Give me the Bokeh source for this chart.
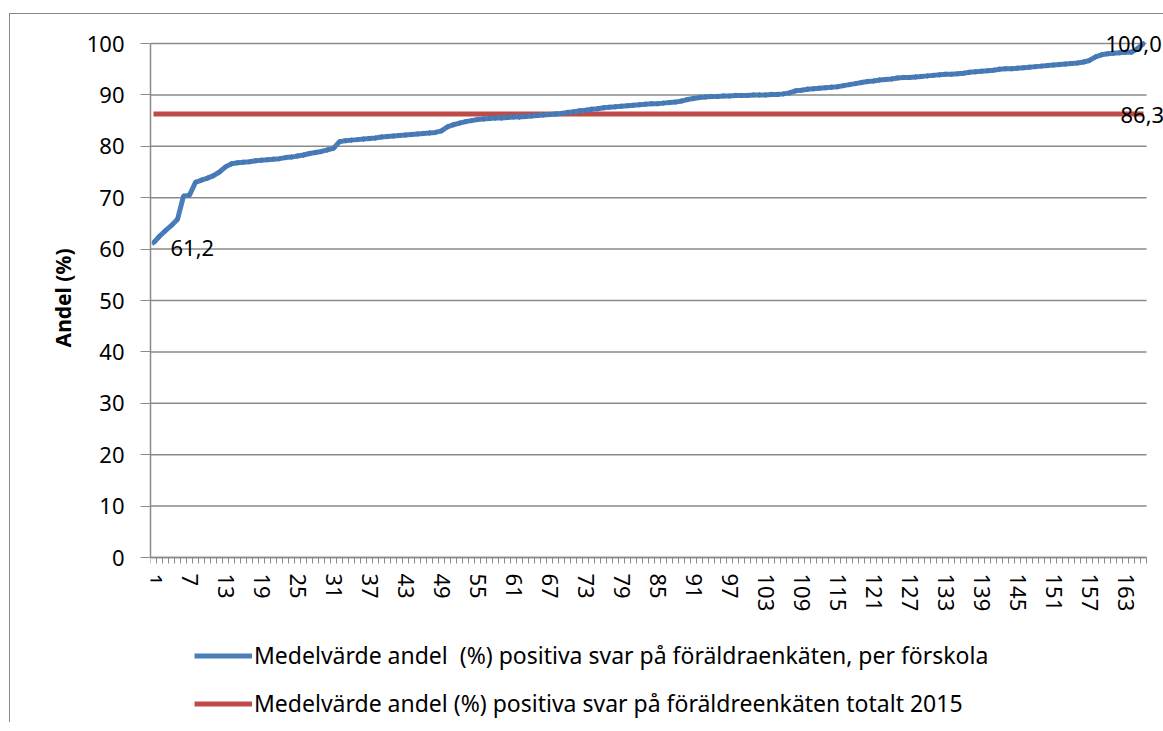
from bokeh.plotting import figure
from bokeh.models import FixedTicker, Legend, LegendItem, Label, LinearAxis, Title
from bokeh.embed import file_html
from bokeh.resources import INLINE

# ---- data ----
andel = [
    61.2, 62.5, 63.6, 64.6, 65.8, 70.3, 70.5, 73.0, 73.4, 73.8,
    74.3, 75.0, 76.0, 76.6, 76.8, 76.9, 77.0, 77.2, 77.3, 77.4,
    77.5, 77.6, 77.8, 77.9, 78.1, 78.3, 78.6, 78.8, 79.0, 79.3,
    79.6, 80.9, 81.1, 81.2, 81.3, 81.4, 81.5, 81.6, 81.8, 81.9,
    82.0, 82.1, 82.2, 82.3, 82.4, 82.5, 82.6, 82.7, 83.0, 83.8,
    84.2, 84.5, 84.8, 85.0, 85.2, 85.3, 85.4, 85.5, 85.5, 85.6,
    85.7, 85.7, 85.8, 85.9, 86.0, 86.1, 86.2, 86.3, 86.4, 86.6,
    86.7, 86.9, 87.0, 87.2, 87.3, 87.5, 87.6, 87.7, 87.8, 87.9,
    88.0, 88.1, 88.2, 88.3, 88.3, 88.4, 88.5, 88.6, 88.8, 89.1,
    89.3, 89.5, 89.6, 89.7, 89.7, 89.8, 89.8, 89.9, 89.9, 89.9,
    90.0, 90.0, 90.0, 90.1, 90.1, 90.2, 90.4, 90.8, 90.9, 91.1,
    91.2, 91.3, 91.4, 91.5, 91.6, 91.8, 92.0, 92.2, 92.4, 92.6,
    92.7, 92.9, 93.0, 93.1, 93.3, 93.4, 93.4, 93.5, 93.6, 93.7,
    93.8, 93.9, 94.0, 94.0, 94.1, 94.2, 94.4, 94.5, 94.6, 94.7,
    94.8, 95.0, 95.1, 95.1, 95.2, 95.3, 95.4, 95.5, 95.6, 95.7,
    95.8, 95.9, 96.0, 96.1, 96.2, 96.4, 96.7, 97.4, 97.8, 98.0,
    98.1, 98.2, 98.3, 98.3, 99.0, 100.0,
]
forskola = list(range(1, len(andel) + 1))
total_2015 = [86.3] * len(andel)
x_tick_labels = list(range(1, len(andel) + 1, 6))
y_ticks = list(range(0, 101, 10))
label_first = "61,2"
label_last = "100,0"
label_total = "86,3"
y_title = "Andel (%)"
legend_blue = "Medelvärde andel  (%) positiva svar på föräldraenkäten, per förskola"
legend_red = "Medelvärde andel (%) positiva svar på föräldreenkäten totalt 2015"

BLUE = "#4A7EBB"
RED = "#BE4B48"
GRID = "#8a8a8a"
FONT = "Noto Sans"

n = len(andel)
x_lo, x_hi = 0.5, n + 0.5
PX_X = 6.0    # px per category
PX_Y = 5.14   # px per percent
FRAME_W, FRAME_H = 1013, 685
y_top = 100 + 8 / PX_Y
y_bottom = y_top - FRAME_H / PX_Y

p = figure(
    output_backend="svg", toolbar_location=None,
    frame_width=FRAME_W, frame_height=FRAME_H,
    min_border_left=140, min_border_right=0, min_border_top=21, min_border_bottom=2,
    x_range=(x_lo, x_lo + FRAME_W / PX_X), y_range=(y_bottom, y_top),
    x_axis_location=None,
)
p.styles = {"border-left": "1px solid #868686", "border-top": "1px solid #868686",
            "margin-top": "13px", "margin-left": "9px"}
p.outline_line_color = None
p.background_fill_color = "white"
p.border_fill_color = "white"
p.xgrid.grid_line_color = None
p.ygrid.grid_line_color = None

# horizontal gridlines limited to the category span
p.segment(x0=[x_lo] * len(y_ticks), x1=[x_hi] * len(y_ticks), y0=y_ticks, y1=y_ticks,
          line_color=GRID, line_width=1.5)

# x axis at y = 0
xaxis = LinearAxis(fixed_location=0, bounds=(x_lo, x_hi))
xaxis.ticker = FixedTicker(ticks=x_tick_labels,
                           minor_ticks=[i + 0.5 for i in range(0, n + 1)])
xaxis.major_label_orientation = "vertical"
xaxis.major_tick_out = 0
xaxis.major_tick_in = 0
xaxis.minor_tick_out = 6
xaxis.minor_tick_in = 0
xaxis.minor_tick_line_color = GRID
xaxis.axis_line_color = GRID
xaxis.axis_line_width = 1.5
xaxis.major_label_standoff = 10
xaxis.major_label_text_font = FONT
xaxis.major_label_text_font_size = "22px"
xaxis.major_label_text_color = "black"
p.add_layout(xaxis, "below")

p.yaxis.ticker = FixedTicker(ticks=y_ticks)
p.yaxis.bounds = (0, 100)
p.yaxis.major_tick_out = 10
p.yaxis.major_tick_in = 0
p.yaxis.minor_tick_line_color = None
p.yaxis.major_tick_line_color = GRID
p.yaxis.axis_line_color = GRID
p.yaxis.axis_line_width = 1.5
p.yaxis.major_label_standoff = 16
p.yaxis.major_label_text_font = FONT
p.yaxis.major_label_text_font_size = "22px"
p.yaxis.major_label_text_color = "black"

p.add_layout(Title(text=y_title, align="right", offset=213, standoff=14,
                   text_font=FONT, text_font_size="21px", text_font_style="bold",
                   text_color="black"), "left")

# series
r_red = p.line(forskola, total_2015, line_color=RED, line_width=5)
r_blue = p.line(forskola, andel, line_color=BLUE, line_width=5)
p.scatter(forskola, andel, marker="diamond", size=5, fill_color=BLUE,
          line_color="#3f6fa8", line_width=0.8)

# data labels
for xv, yv, txt, dx, dy in [
    (forskola[0], andel[0], label_first, 17, -5),
    (forskola[-1], andel[-1], label_last, -38, 0),
    (forskola[-1], total_2015[-1], label_total, -23, -1),
]:
    p.add_layout(Label(x=xv, y=yv, text=txt, x_offset=dx, y_offset=dy,
                       text_font=FONT, text_font_size="22px",
                       text_baseline="middle", text_align="left",
                       text_color="black"))

legend = Legend(
    items=[LegendItem(label=legend_blue, renderers=[r_blue]),
           LegendItem(label=legend_red, renderers=[r_red])],
    location=(44, 1), orientation="vertical",
    glyph_width=58, glyph_height=31, label_height=31, spacing=16,
    label_standoff=2, padding=0, margin=0,
    label_text_font=FONT, label_text_font_size="23px", label_text_color="black",
    border_line_color=None, background_fill_alpha=0,
)
p.add_layout(legend, "center")

open("out.html", "w").write(file_html(p, INLINE))
